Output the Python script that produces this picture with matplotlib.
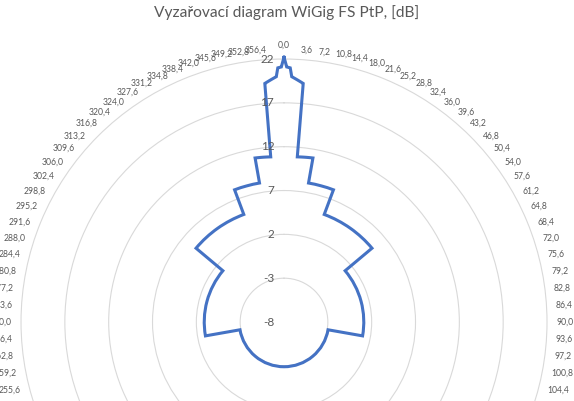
import matplotlib.pyplot as plt
import numpy as np

# corners of the radiation pattern: angle in degrees (clockwise from 0) and gain in dB
angles = [0, 0.6, 1.4, 1.8, 4.6, 4.6, 10, 10, 20.5, 20.5, 50, 50, 100, 100,
          260, 260, 310, 310, 339.5, 339.5, 350, 350, 355.4, 355.4,
          358.2, 358.6, 359.4, 360]
gain = [22.2, 21.1, 21.0, 20.0, 19.3, 10.9, 11.0, 8.1, 8.1, 5.1, 5.1, 1.1, 1.1, -2.9,
        -2.9, 1.1, 1.1, 5.1, 5.1, 8.1, 8.1, 11.0, 10.9, 19.3,
        20.0, 21.0, 21.1, 22.2]

# category axis: 100 directions, 3.6 deg apart
categories = [i * 3.6 for i in range(100)]
cat_labels = [f"{c:.1f}".replace(".", ",") for c in categories]
r_ticks = [-8, -3, 2, 7, 12, 17, 22]

plt.rcParams['font.family'] = ['Lato', 'DejaVu Sans']
grey = '#595959'

fig = plt.figure(figsize=(5.74, 4.01), dpi=100)
# chart is bigger than the picture, bottom half is cut off like in the original
ax = fig.add_axes([0.0366, -0.4589, 0.9164, 1.3117], projection='polar')
ax.set_theta_zero_location('N')
ax.set_theta_direction(-1)

line, = ax.plot(np.radians(angles), gain, color='#4472C4', lw=2.2,
                solid_joinstyle='miter', clip_on=False, zorder=3)
# draw constant-gain parts as arcs, not chords
line.get_path()._interpolation_steps = 60

ax.set_ylim(-8, 22)
ax.set_yticks(r_ticks[1:-1])
ax.set_yticklabels([])
ax.set_xticks([])
ax.yaxis.grid(True, color='#D9D9D9', lw=0.8)
ax.spines['polar'].set_color('#D9D9D9')
ax.spines['polar'].set_linewidth(0.8)

for v in r_ticks:
    ax.annotate(str(v), xy=(0, v), xytext=(-7, 0), textcoords='offset points',
                ha='right', va='center', fontsize=8.5, color=grey)

for c, lab in zip(categories, cat_labels):
    s = np.sin(np.radians(c))
    if abs(s) < 1e-6:
        ha = 'center'
        va = 'bottom' if c < 90 else 'top'
    else:
        ha = 'left' if s > 0 else 'right'
        va = 'center'
    ax.text(np.radians(c), 23.05, lab, ha=ha, va=va, fontsize=6.2, color=grey)

fig.text(0.5, 1 - 13 / 401, 'Vyzařovací diagram WiGig FS PtP, [dB]',
         ha='center', va='center', fontsize=11.2, color=grey)

fig.savefig('out.png', dpi=100)
